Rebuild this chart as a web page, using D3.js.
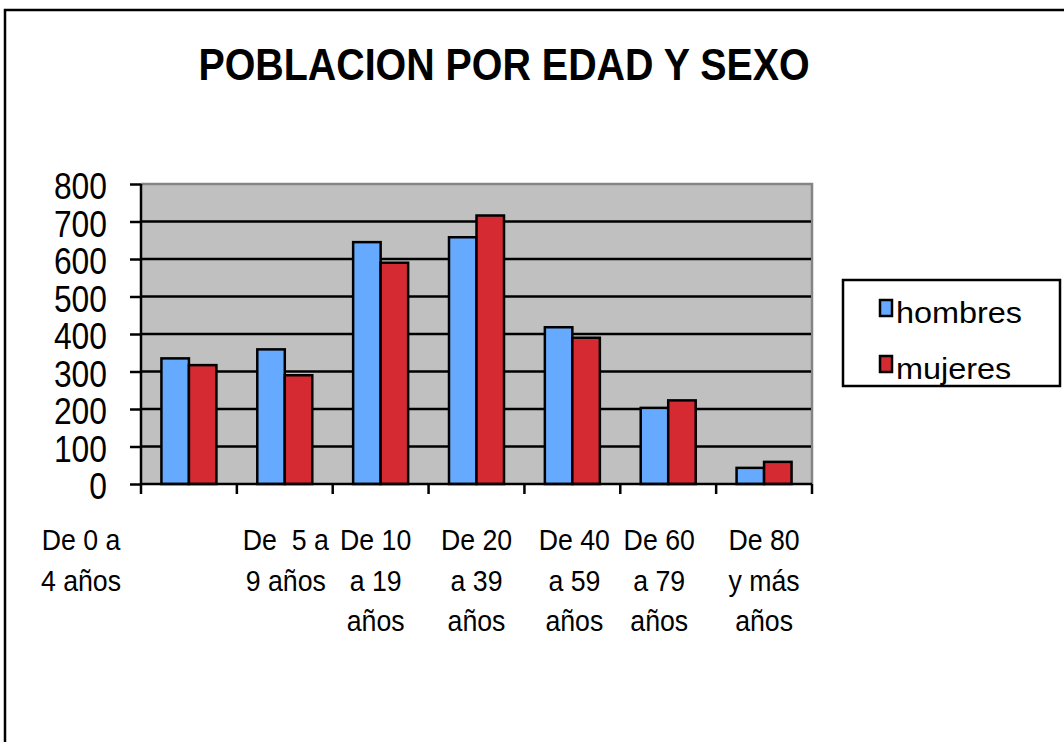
<!DOCTYPE html>
<html>
<head>
<meta charset="utf-8">
<script src="https://cdn.jsdelivr.net/npm/d3@7"></script>
<style>
  body { margin: 0; background: #ffffff; }
  text { font-family: "Liberation Sans", Arial, sans-serif; white-space: pre; }
</style>
</head>
<body>
<div id="chart"></div>
<script>
// data
var categories = ["0-4", "5-9", "10-19", "20-39", "40-59", "60-79", "80+"];
var categoryLines = [
    ["De 0 a", "4 años"],
    ["De  5 a", "9 años"],
    ["De 10", "a 19", "años"],
    ["De 20", "a 39", "años"],
    ["De 40", "a 59", "años"],
    ["De 60", "a 79", "años"],
    ["De 80", "y más", "años"]
];
var seriesNames = ["hombres", "mujeres"];
var hombres = [335, 359, 645, 658, 418, 203, 43];
var mujeres = [317, 290, 590, 716, 390, 223, 59];
var yTicks = [0, 100, 200, 300, 400, 500, 600, 700, 800];
var title = "POBLACION POR EDAD Y SEXO";

// dimensions
var width = 1064;
var height = 742;
var plot = { left: 141, right: 812, top: 184, bottom: 484 };
var colors = { hombres: "#66aaff", mujeres: "#d62a32" };
// labels in the original are not all centred under their group
var labelShift = [-108, 1, -5, 0, 2, -9, 0];

var svg = d3.select("#chart")
    .append("svg")
    .attr("width", width)
    .attr("height", height);

// outer frame (runs off the right and bottom edge)
svg.append("rect")
    .attr("x", 5)
    .attr("y", 10)
    .attr("width", 1200)
    .attr("height", 900)
    .style("fill", "none")
    .style("stroke", "#000")
    .style("stroke-width", 2.5);

svg.append("text")
    .attr("transform", "translate(504, 80) scale(0.895, 1)")
    .attr("text-anchor", "middle")
    .attr("font-size", "44px")
    .attr("font-weight", 700)
    .text(title);

var x0 = d3.scaleBand()
    .domain(categories)
    .range([plot.left, plot.right]);

var groupWidth = 55;
var x1 = d3.scaleBand()
    .domain(seriesNames)
    .range([(x0.bandwidth() - groupWidth) / 2, (x0.bandwidth() + groupWidth) / 2]);

var y = d3.scaleLinear()
    .domain([0, 800])
    .range([plot.bottom, plot.top]);

// plot area
svg.append("rect")
    .attr("x", plot.left)
    .attr("y", plot.top)
    .attr("width", plot.right - plot.left)
    .attr("height", plot.bottom - plot.top)
    .style("fill", "#c0c0c0");

svg.append("path")
    .attr("d", "M" + plot.left + "," + y(800) + "H" + plot.right + "V" + plot.bottom)
    .style("fill", "none")
    .style("stroke", "#858585")
    .style("stroke-width", 2.5);

// gridlines
svg.append("g")
    .selectAll("line")
    .data(yTicks.filter(function (d) { return d > 0 && d < 800; }))
    .enter()
    .append("line")
    .attr("x1", plot.left)
    .attr("x2", plot.right - 1)
    .attr("y1", function (d) { return y(d); })
    .attr("y2", function (d) { return y(d); })
    .style("stroke", "#000")
    .style("stroke-width", 2.5);

// bars
var rows = categories.map(function (c, i) {
    return { cat: c, hombres: hombres[i], mujeres: mujeres[i] };
});

var groups = svg.append("g")
    .selectAll("g")
    .data(rows)
    .enter()
    .append("g")
    .attr("transform", function (d) { return "translate(" + x0(d.cat) + ",0)"; });

groups.selectAll("rect")
    .data(function (d) {
        return seriesNames.map(function (s) { return { key: s, value: d[s] }; });
    })
    .enter()
    .append("rect")
    .attr("x", function (d) { return x1(d.key); })
    .attr("y", function (d) { return y(d.value); })
    .attr("width", x1.bandwidth())
    .attr("height", function (d) { return y(0) - y(d.value); })
    .style("fill", function (d) { return colors[d.key]; })
    .style("stroke", "#000")
    .style("stroke-width", 2.5);

// y axis
var yAxis = svg.append("g")
    .attr("transform", "translate(" + plot.left + ",0)")
    .call(d3.axisLeft(y).tickValues(yTicks).tickSize(11).tickFormat(""));
yAxis.select(".domain").attr("d", "M0," + plot.top + "V" + plot.bottom);
yAxis.selectAll("line, path").style("stroke", "#000").style("stroke-width", 2.5);

yAxis.selectAll(".yLabel")
    .data(yTicks)
    .enter()
    .append("text")
    .attr("class", "yLabel")
    .attr("transform", function (d) {
        return "translate(-34," + (y(d) + 15) + ") scale(0.86, 1)";
    })
    .attr("text-anchor", "end")
    .attr("font-size", "37px")
    .attr("fill", "#000")
    .text(function (d) { return d; });

// x axis: ticks at group boundaries
var xAxis = svg.append("g");
xAxis.append("line")
    .attr("x1", plot.left)
    .attr("x2", plot.right)
    .attr("y1", y(0))
    .attr("y2", y(0))
    .style("stroke", "#000")
    .style("stroke-width", 2.5);

xAxis.selectAll(".xTick")
    .data(categories.concat(["end"]))
    .enter()
    .append("line")
    .attr("class", "xTick")
    .attr("x1", function (d) { return d === "end" ? plot.right : x0(d); })
    .attr("x2", function (d) { return d === "end" ? plot.right : x0(d); })
    .attr("y1", y(0))
    .attr("y2", y(0) + 10)
    .style("stroke", "#000")
    .style("stroke-width", 2.5);

var xLabels = xAxis.selectAll(".xLabel")
    .data(categories)
    .enter()
    .append("g")
    .attr("class", "xLabel")
    .attr("transform", function (d, i) {
        return "translate(" + (x0(d) + x0.bandwidth() / 2 + labelShift[i]) + ",550)";
    });

xLabels.selectAll("text")
    .data(function (d, i) { return categoryLines[i]; })
    .enter()
    .append("text")
    .attr("transform", function (d, i) { return "translate(0," + (i * 40.5) + ") scale(0.89, 1)"; })
    .attr("text-anchor", "middle")
    .attr("font-size", "30px")
    .attr("fill", "#000")
    .text(function (d) { return d; });

// legend
var legend = svg.append("g");
legend.append("rect")
    .attr("x", 843)
    .attr("y", 280)
    .attr("width", 217)
    .attr("height", 106)
    .style("fill", "#fff")
    .style("stroke", "#000")
    .style("stroke-width", 2.5);

var items = legend.selectAll(".item")
    .data(seriesNames)
    .enter()
    .append("g")
    .attr("class", "item")
    .attr("transform", function (d, i) { return "translate(880," + (300 + i * 56) + ")"; });

items.append("rect")
    .attr("width", 12)
    .attr("height", 16)
    .style("fill", function (d) { return colors[d]; })
    .style("stroke", "#000")
    .style("stroke-width", 2.5);

items.append("text")
    .attr("transform", "translate(16,23) scale(1.08, 1)")
    .attr("font-size", "30px")
    .attr("fill", "#000")
    .text(function (d) { return d; });
</script>
</body>
</html>
